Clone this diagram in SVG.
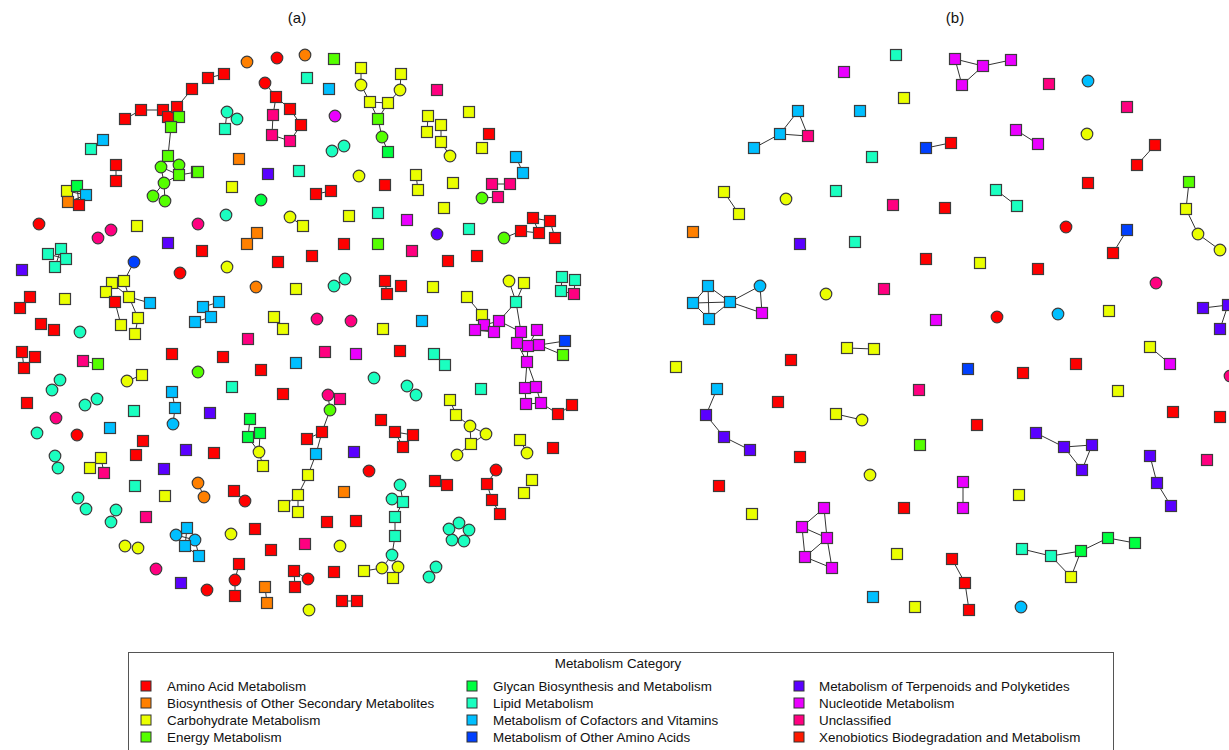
<svg xmlns="http://www.w3.org/2000/svg" xmlns:xlink="http://www.w3.org/1999/xlink" width="1229" height="750" viewBox="0 0 1229 750">
<style>
.r{fill:#ff0000}.o{fill:#ff8000}.y{fill:#eaff00}.e{fill:#55ff00}.g{fill:#00ff40}.l{fill:#1affc0}.c{fill:#00bfff}.b{fill:#0040ff}.t{fill:#5a00ff}.n{fill:#ea00ff}.u{fill:#ff0080}.x{fill:#ff1a00}
use{stroke:#3c3c3c;stroke-width:1.2}
#connectors line{stroke:#333;stroke-width:1}
text{font-family:"Liberation Sans",Arial,sans-serif;fill:#111}
.lg{font-size:13.4px}
.sw{stroke:#333;stroke-width:1}
</style>
<defs>
<rect id="s" x="-5.5" y="-5.5" width="11" height="11"/>
<circle id="k" r="5.8"/>
</defs>
<rect width="1229" height="750" fill="#fff"/>
<text x="297" y="23" font-size="15" text-anchor="middle">(a)</text>
<text x="955" y="23" font-size="15" text-anchor="middle">(b)</text>
<g id="connectors">
<line x1="192" y1="89" x2="177" y2="107"/><line x1="125" y1="119" x2="141" y2="110"/><line x1="141" y1="110" x2="163" y2="110"/><line x1="171" y1="127" x2="168" y2="156"/><line x1="168" y1="156" x2="161" y2="167"/><line x1="168" y1="156" x2="179" y2="165"/><line x1="161" y1="167" x2="179" y2="175"/><line x1="164" y1="183" x2="179" y2="175"/><line x1="164" y1="183" x2="161" y2="167"/><line x1="164" y1="183" x2="153" y2="196"/><line x1="164" y1="183" x2="165" y2="201"/><line x1="179" y1="175" x2="197" y2="172"/><line x1="179" y1="165" x2="179" y2="175"/><line x1="116" y1="165" x2="116" y2="181"/><line x1="67" y1="191" x2="86" y2="195"/><line x1="77" y1="186" x2="79" y2="205"/><line x1="68" y1="202" x2="86" y2="195"/><line x1="61" y1="249" x2="55" y2="267"/><line x1="48" y1="254" x2="66" y2="259"/><line x1="134" y1="262" x2="124" y2="281"/><line x1="124" y1="281" x2="129" y2="297"/><line x1="112" y1="283" x2="129" y2="297"/><line x1="129" y1="297" x2="150" y2="303"/><line x1="129" y1="297" x2="138" y2="318"/><line x1="115" y1="302" x2="121" y2="325"/><line x1="138" y1="318" x2="135" y2="334"/><line x1="106" y1="292" x2="115" y2="302"/><line x1="22" y1="352" x2="24" y2="368"/><line x1="83" y1="361" x2="98" y2="364"/><line x1="127" y1="381" x2="142" y2="375"/><line x1="172" y1="392" x2="175" y2="408"/><line x1="175" y1="408" x2="173" y2="424"/><line x1="101" y1="458" x2="104" y2="473"/><line x1="90" y1="468" x2="101" y2="458"/><line x1="187" y1="528" x2="185" y2="546"/><line x1="176" y1="535" x2="195" y2="540"/><line x1="185" y1="546" x2="199" y2="556"/><line x1="195" y1="540" x2="199" y2="556"/><line x1="208" y1="78" x2="224" y2="74"/><line x1="265" y1="83" x2="276" y2="97"/><line x1="276" y1="97" x2="290" y2="109"/><line x1="290" y1="109" x2="301" y2="125"/><line x1="276" y1="97" x2="273" y2="115"/><line x1="273" y1="115" x2="272" y2="135"/><line x1="272" y1="135" x2="290" y2="141"/><line x1="301" y1="125" x2="290" y2="141"/><line x1="227" y1="112" x2="225" y2="129"/><line x1="361" y1="68" x2="361" y2="85"/><line x1="361" y1="85" x2="370" y2="102"/><line x1="370" y1="102" x2="388" y2="103"/><line x1="370" y1="102" x2="378" y2="119"/><line x1="388" y1="103" x2="378" y2="119"/><line x1="378" y1="119" x2="382" y2="137"/><line x1="382" y1="137" x2="388" y2="152"/><line x1="388" y1="103" x2="400" y2="90"/><line x1="401" y1="74" x2="400" y2="90"/><line x1="428" y1="116" x2="427" y2="132"/><line x1="441" y1="125" x2="441" y2="142"/><line x1="441" y1="142" x2="450" y2="156"/><line x1="516" y1="157" x2="523" y2="173"/><line x1="492" y1="184" x2="510" y2="184"/><line x1="482" y1="198" x2="498" y2="197"/><line x1="416" y1="175" x2="418" y2="190"/><line x1="533" y1="218" x2="550" y2="221"/><line x1="521" y1="231" x2="539" y2="233"/><line x1="504" y1="238" x2="521" y2="231"/><line x1="550" y1="221" x2="555" y2="238"/><line x1="533" y1="218" x2="539" y2="233"/><line x1="290" y1="217" x2="303" y2="226"/><line x1="316" y1="194" x2="331" y2="191"/><line x1="257" y1="233" x2="247" y2="244"/><line x1="334" y1="286" x2="345" y2="279"/><line x1="385" y1="281" x2="387" y2="294"/><line x1="203" y1="307" x2="219" y2="302"/><line x1="211" y1="317" x2="195" y2="322"/><line x1="509" y1="281" x2="516" y2="302"/><line x1="524" y1="283" x2="516" y2="302"/><line x1="516" y1="302" x2="499" y2="321"/><line x1="516" y1="302" x2="521" y2="332"/><line x1="467" y1="297" x2="482" y2="315"/><line x1="482" y1="315" x2="494" y2="332"/><line x1="499" y1="321" x2="484" y2="325"/><line x1="475" y1="330" x2="494" y2="332"/><line x1="499" y1="321" x2="521" y2="332"/><line x1="521" y1="332" x2="517" y2="343"/><line x1="537" y1="330" x2="528" y2="346"/><line x1="517" y1="343" x2="528" y2="346"/><line x1="528" y1="346" x2="539" y2="345"/><line x1="539" y1="345" x2="565" y2="341"/><line x1="539" y1="345" x2="563" y2="355"/><line x1="517" y1="343" x2="527" y2="362"/><line x1="528" y1="346" x2="527" y2="362"/><line x1="527" y1="362" x2="525" y2="388"/><line x1="527" y1="362" x2="536" y2="387"/><line x1="525" y1="388" x2="526" y2="404"/><line x1="536" y1="387" x2="541" y2="403"/><line x1="526" y1="404" x2="541" y2="403"/><line x1="541" y1="403" x2="558" y2="414"/><line x1="558" y1="414" x2="572" y2="405"/><line x1="562" y1="277" x2="561" y2="291"/><line x1="575" y1="280" x2="574" y2="294"/><line x1="561" y1="291" x2="574" y2="294"/><line x1="434" y1="354" x2="445" y2="365"/><line x1="450" y1="400" x2="456" y2="415"/><line x1="456" y1="415" x2="470" y2="426"/><line x1="470" y1="426" x2="486" y2="434"/><line x1="470" y1="426" x2="471" y2="444"/><line x1="486" y1="434" x2="471" y2="444"/><line x1="471" y1="444" x2="457" y2="455"/><line x1="520" y1="440" x2="527" y2="453"/><line x1="395" y1="432" x2="413" y2="435"/><line x1="395" y1="432" x2="403" y2="447"/><line x1="496" y1="470" x2="487" y2="484"/><line x1="487" y1="484" x2="492" y2="500"/><line x1="492" y1="500" x2="500" y2="514"/><line x1="435" y1="481" x2="447" y2="485"/><line x1="400" y1="485" x2="403" y2="502"/><line x1="392" y1="499" x2="403" y2="502"/><line x1="403" y1="502" x2="395" y2="517"/><line x1="395" y1="517" x2="395" y2="536"/><line x1="395" y1="536" x2="392" y2="555"/><line x1="392" y1="555" x2="382" y2="568"/><line x1="392" y1="555" x2="398" y2="567"/><line x1="398" y1="567" x2="393" y2="578"/><line x1="382" y1="568" x2="364" y2="571"/><line x1="459" y1="523" x2="469" y2="530"/><line x1="469" y1="530" x2="464" y2="541"/><line x1="464" y1="541" x2="452" y2="540"/><line x1="452" y1="540" x2="449" y2="529"/><line x1="449" y1="529" x2="459" y2="523"/><line x1="328" y1="395" x2="340" y2="399"/><line x1="328" y1="395" x2="330" y2="410"/><line x1="330" y1="410" x2="322" y2="432"/><line x1="322" y1="432" x2="307" y2="439"/><line x1="322" y1="432" x2="316" y2="454"/><line x1="316" y1="454" x2="308" y2="475"/><line x1="308" y1="475" x2="298" y2="495"/><line x1="298" y1="495" x2="284" y2="506"/><line x1="298" y1="495" x2="298" y2="512"/><line x1="250" y1="419" x2="248" y2="437"/><line x1="260" y1="433" x2="259" y2="452"/><line x1="248" y1="437" x2="259" y2="452"/><line x1="259" y1="452" x2="263" y2="466"/><line x1="198" y1="483" x2="204" y2="497"/><line x1="234" y1="491" x2="245" y2="501"/><line x1="239" y1="564" x2="235" y2="580"/><line x1="235" y1="580" x2="235" y2="596"/><line x1="294" y1="571" x2="295" y2="587"/><line x1="294" y1="571" x2="308" y2="579"/><line x1="265" y1="587" x2="267" y2="603"/><line x1="342" y1="601" x2="357" y2="601"/>
<line x1="798" y1="111" x2="780" y2="134"/><line x1="798" y1="111" x2="808" y2="136"/><line x1="780" y1="134" x2="808" y2="136"/><line x1="780" y1="134" x2="754" y2="148"/><line x1="926" y1="148" x2="950" y2="143"/><line x1="724" y1="192" x2="739" y2="214"/><line x1="708" y1="286" x2="693" y2="303"/><line x1="693" y1="303" x2="709" y2="319"/><line x1="708" y1="286" x2="709" y2="319"/><line x1="693" y1="303" x2="730" y2="302"/><line x1="708" y1="286" x2="730" y2="302"/><line x1="709" y1="319" x2="730" y2="302"/><line x1="730" y1="302" x2="760" y2="286"/><line x1="730" y1="302" x2="762" y2="313"/><line x1="760" y1="286" x2="762" y2="313"/><line x1="955" y1="59" x2="983" y2="66"/><line x1="955" y1="59" x2="962" y2="85"/><line x1="962" y1="85" x2="983" y2="66"/><line x1="983" y1="66" x2="1011" y2="60"/><line x1="1016" y1="130" x2="1038" y2="144"/><line x1="1155" y1="145" x2="1137" y2="165"/><line x1="996" y1="190" x2="1017" y2="206"/><line x1="1189" y1="182" x2="1186" y2="209"/><line x1="1186" y1="209" x2="1198" y2="234"/><line x1="1198" y1="234" x2="1220" y2="250"/><line x1="1127" y1="230" x2="1113" y2="253"/><line x1="1203" y1="308" x2="1228" y2="305"/><line x1="1228" y1="305" x2="1220" y2="329"/><line x1="847" y1="348" x2="874" y2="349"/><line x1="717" y1="389" x2="706" y2="415"/><line x1="706" y1="415" x2="724" y2="437"/><line x1="724" y1="437" x2="750" y2="450"/><line x1="836" y1="414" x2="862" y2="420"/><line x1="824" y1="508" x2="802" y2="527"/><line x1="824" y1="508" x2="827" y2="538"/><line x1="802" y1="527" x2="827" y2="538"/><line x1="802" y1="527" x2="805" y2="557"/><line x1="805" y1="557" x2="827" y2="538"/><line x1="805" y1="557" x2="832" y2="568"/><line x1="827" y1="538" x2="832" y2="568"/><line x1="1150" y1="347" x2="1170" y2="364"/><line x1="1036" y1="433" x2="1064" y2="447"/><line x1="1064" y1="447" x2="1092" y2="445"/><line x1="1064" y1="447" x2="1082" y2="470"/><line x1="1092" y1="445" x2="1082" y2="470"/><line x1="1150" y1="456" x2="1157" y2="483"/><line x1="1157" y1="483" x2="1171" y2="506"/><line x1="963" y1="482" x2="963" y2="508"/><line x1="1022" y1="549" x2="1051" y2="556"/><line x1="1051" y1="556" x2="1081" y2="551"/><line x1="1081" y1="551" x2="1108" y2="538"/><line x1="1108" y1="538" x2="1135" y2="543"/><line x1="1051" y1="556" x2="1071" y2="577"/><line x1="1081" y1="551" x2="1071" y2="577"/><line x1="952" y1="559" x2="965" y2="583"/><line x1="965" y1="583" x2="969" y2="610"/>
</g>
<g id="panel-a">
<g id="a1"><use href="#s" class="r" x="192" y="89"/></g>
<g id="a2"><use href="#s" class="r" x="141" y="110"/></g>
<g id="a3"><use href="#s" class="r" x="163" y="110"/></g>
<g id="a4"><use href="#s" class="r" x="168" y="117"/></g>
<g id="a5"><use href="#s" class="r" x="177" y="107"/></g>
<g id="a6"><use href="#s" class="e" x="179" y="117"/></g>
<g id="a7"><use href="#s" class="r" x="125" y="119"/></g>
<g id="a8"><use href="#s" class="e" x="171" y="127"/></g>
<g id="a9"><use href="#s" class="c" x="103" y="140"/></g>
<g id="a10"><use href="#s" class="l" x="91" y="149"/></g>
<g id="a11"><use href="#s" class="r" x="116" y="165"/></g>
<g id="a12"><use href="#s" class="r" x="116" y="181"/></g>
<g id="a13"><use href="#s" class="e" x="168" y="156"/></g>
<g id="a14"><use href="#k" class="e" x="161" y="167"/></g>
<g id="a15"><use href="#k" class="e" x="179" y="165"/></g>
<g id="a16"><use href="#s" class="e" x="179" y="175"/></g>
<g id="a17"><use href="#s" class="e" x="197" y="172"/></g>
<g id="a18"><use href="#k" class="e" x="164" y="183"/></g>
<g id="a19"><use href="#k" class="e" x="153" y="196"/></g>
<g id="a20"><use href="#k" class="e" x="165" y="201"/></g>
<g id="a21"><use href="#s" class="y" x="67" y="191"/></g>
<g id="a22"><use href="#s" class="g" x="77" y="186"/></g>
<g id="a23"><use href="#s" class="c" x="86" y="195"/></g>
<g id="a24"><use href="#s" class="o" x="68" y="202"/></g>
<g id="a25"><use href="#s" class="r" x="79" y="205"/></g>
<g id="a26"><use href="#k" class="r" x="39" y="224"/></g>
<g id="a27"><use href="#k" class="u" x="98" y="238"/></g>
<g id="a28"><use href="#k" class="u" x="111" y="230"/></g>
<g id="a29"><use href="#s" class="y" x="137" y="226"/></g>
<g id="a30"><use href="#s" class="t" x="168" y="243"/></g>
<g id="a31"><use href="#s" class="l" x="48" y="254"/></g>
<g id="a32"><use href="#s" class="l" x="61" y="249"/></g>
<g id="a33"><use href="#s" class="l" x="66" y="259"/></g>
<g id="a34"><use href="#s" class="l" x="55" y="267"/></g>
<g id="a35"><use href="#s" class="t" x="22" y="270"/></g>
<g id="a36"><use href="#k" class="b" x="134" y="262"/></g>
<g id="a37"><use href="#k" class="r" x="180" y="273"/></g>
<g id="a38"><use href="#s" class="y" x="112" y="283"/></g>
<g id="a39"><use href="#s" class="y" x="124" y="281"/></g>
<g id="a40"><use href="#s" class="y" x="106" y="292"/></g>
<g id="a41"><use href="#s" class="r" x="115" y="302"/></g>
<g id="a42"><use href="#s" class="y" x="129" y="297"/></g>
<g id="a43"><use href="#s" class="c" x="150" y="303"/></g>
<g id="a44"><use href="#s" class="y" x="138" y="318"/></g>
<g id="a45"><use href="#s" class="y" x="121" y="325"/></g>
<g id="a46"><use href="#s" class="y" x="135" y="334"/></g>
<g id="a47"><use href="#s" class="r" x="30" y="297"/></g>
<g id="a48"><use href="#s" class="r" x="20" y="308"/></g>
<g id="a49"><use href="#s" class="y" x="65" y="299"/></g>
<g id="a50"><use href="#s" class="r" x="41" y="324"/></g>
<g id="a51"><use href="#s" class="r" x="54" y="330"/></g>
<g id="a52"><use href="#k" class="l" x="80" y="332"/></g>
<g id="a53"><use href="#k" class="o" x="247" y="62"/></g>
<g id="a54"><use href="#k" class="r" x="277" y="58"/></g>
<g id="a55"><use href="#k" class="o" x="305" y="55"/></g>
<g id="a56"><use href="#s" class="e" x="334" y="59"/></g>
<g id="a57"><use href="#s" class="r" x="208" y="78"/></g>
<g id="a58"><use href="#s" class="r" x="224" y="74"/></g>
<g id="a59"><use href="#k" class="r" x="265" y="83"/></g>
<g id="a60"><use href="#s" class="l" x="307" y="78"/></g>
<g id="a61"><use href="#s" class="c" x="329" y="89"/></g>
<g id="a62"><use href="#s" class="y" x="361" y="68"/></g>
<g id="a63"><use href="#k" class="y" x="361" y="85"/></g>
<g id="a64"><use href="#s" class="y" x="370" y="102"/></g>
<g id="a65"><use href="#s" class="y" x="388" y="103"/></g>
<g id="a66"><use href="#s" class="e" x="378" y="119"/></g>
<g id="a67"><use href="#k" class="e" x="382" y="137"/></g>
<g id="a68"><use href="#s" class="g" x="388" y="152"/></g>
<g id="a69"><use href="#k" class="l" x="227" y="112"/></g>
<g id="a70"><use href="#k" class="l" x="237" y="119"/></g>
<g id="a71"><use href="#s" class="l" x="225" y="129"/></g>
<g id="a72"><use href="#s" class="r" x="276" y="97"/></g>
<g id="a73"><use href="#s" class="r" x="290" y="109"/></g>
<g id="a74"><use href="#s" class="r" x="301" y="125"/></g>
<g id="a75"><use href="#s" class="u" x="273" y="115"/></g>
<g id="a76"><use href="#s" class="u" x="272" y="135"/></g>
<g id="a77"><use href="#s" class="u" x="290" y="141"/></g>
<g id="a78"><use href="#k" class="n" x="335" y="116"/></g>
<g id="a79"><use href="#k" class="l" x="332" y="151"/></g>
<g id="a80"><use href="#k" class="l" x="344" y="146"/></g>
<g id="a81"><use href="#s" class="o" x="239" y="159"/></g>
<g id="a82"><use href="#s" class="t" x="268" y="174"/></g>
<g id="a83"><use href="#s" class="l" x="299" y="171"/></g>
<g id="a84"><use href="#k" class="y" x="359" y="176"/></g>
<g id="a85"><use href="#s" class="r" x="385" y="185"/></g>
<g id="a86"><use href="#s" class="e" x="198" y="172"/></g>
<g id="a87"><use href="#s" class="y" x="232" y="187"/></g>
<g id="a88"><use href="#s" class="r" x="316" y="194"/></g>
<g id="a89"><use href="#s" class="r" x="331" y="191"/></g>
<g id="a90"><use href="#k" class="g" x="261" y="200"/></g>
<g id="a91"><use href="#k" class="l" x="226" y="215"/></g>
<g id="a92"><use href="#k" class="u" x="198" y="224"/></g>
<g id="a93"><use href="#k" class="y" x="290" y="217"/></g>
<g id="a94"><use href="#s" class="y" x="303" y="226"/></g>
<g id="a95"><use href="#s" class="y" x="349" y="216"/></g>
<g id="a96"><use href="#s" class="l" x="378" y="213"/></g>
<g id="a97"><use href="#s" class="o" x="257" y="233"/></g>
<g id="a98"><use href="#s" class="o" x="247" y="244"/></g>
<g id="a99"><use href="#s" class="r" x="202" y="251"/></g>
<g id="a100"><use href="#s" class="r" x="344" y="244"/></g>
<g id="a101"><use href="#s" class="e" x="378" y="244"/></g>
<g id="a102"><use href="#s" class="r" x="278" y="262"/></g>
<g id="a103"><use href="#s" class="r" x="312" y="256"/></g>
<g id="a104"><use href="#k" class="y" x="227" y="267"/></g>
<g id="a105"><use href="#k" class="o" x="256" y="287"/></g>
<g id="a106"><use href="#s" class="y" x="296" y="289"/></g>
<g id="a107"><use href="#k" class="l" x="334" y="286"/></g>
<g id="a108"><use href="#k" class="l" x="345" y="279"/></g>
<g id="a109"><use href="#s" class="r" x="385" y="281"/></g>
<g id="a110"><use href="#s" class="r" x="387" y="294"/></g>
<g id="a111"><use href="#s" class="c" x="203" y="307"/></g>
<g id="a112"><use href="#s" class="c" x="219" y="302"/></g>
<g id="a113"><use href="#s" class="c" x="211" y="317"/></g>
<g id="a114"><use href="#s" class="c" x="195" y="322"/></g>
<g id="a115"><use href="#s" class="y" x="274" y="317"/></g>
<g id="a116"><use href="#k" class="u" x="317" y="319"/></g>
<g id="a117"><use href="#k" class="u" x="351" y="321"/></g>
<g id="a118"><use href="#s" class="y" x="383" y="329"/></g>
<g id="a119"><use href="#s" class="y" x="283" y="329"/></g>
<g id="a120"><use href="#s" class="y" x="401" y="74"/></g>
<g id="a121"><use href="#k" class="y" x="400" y="90"/></g>
<g id="a122"><use href="#s" class="u" x="437" y="90"/></g>
<g id="a123"><use href="#s" class="y" x="428" y="116"/></g>
<g id="a124"><use href="#s" class="y" x="441" y="125"/></g>
<g id="a125"><use href="#s" class="y" x="427" y="132"/></g>
<g id="a126"><use href="#s" class="y" x="441" y="142"/></g>
<g id="a127"><use href="#k" class="y" x="450" y="156"/></g>
<g id="a128"><use href="#s" class="y" x="469" y="112"/></g>
<g id="a129"><use href="#s" class="r" x="489" y="134"/></g>
<g id="a130"><use href="#s" class="y" x="482" y="148"/></g>
<g id="a131"><use href="#s" class="c" x="516" y="157"/></g>
<g id="a132"><use href="#s" class="c" x="523" y="173"/></g>
<g id="a133"><use href="#s" class="u" x="492" y="184"/></g>
<g id="a134"><use href="#s" class="u" x="510" y="184"/></g>
<g id="a135"><use href="#s" class="u" x="498" y="197"/></g>
<g id="a136"><use href="#k" class="e" x="482" y="198"/></g>
<g id="a137"><use href="#s" class="y" x="416" y="175"/></g>
<g id="a138"><use href="#s" class="y" x="418" y="190"/></g>
<g id="a139"><use href="#s" class="y" x="453" y="183"/></g>
<g id="a140"><use href="#s" class="y" x="444" y="208"/></g>
<g id="a141"><use href="#s" class="n" x="407" y="220"/></g>
<g id="a142"><use href="#k" class="t" x="437" y="234"/></g>
<g id="a143"><use href="#s" class="l" x="469" y="229"/></g>
<g id="a144"><use href="#s" class="r" x="533" y="218"/></g>
<g id="a145"><use href="#s" class="r" x="550" y="221"/></g>
<g id="a146"><use href="#s" class="r" x="521" y="231"/></g>
<g id="a147"><use href="#s" class="r" x="539" y="233"/></g>
<g id="a148"><use href="#s" class="r" x="555" y="238"/></g>
<g id="a149"><use href="#k" class="e" x="504" y="238"/></g>
<g id="a150"><use href="#s" class="u" x="412" y="251"/></g>
<g id="a151"><use href="#s" class="r" x="448" y="261"/></g>
<g id="a152"><use href="#s" class="r" x="477" y="256"/></g>
<g id="a153"><use href="#s" class="r" x="401" y="286"/></g>
<g id="a154"><use href="#s" class="y" x="433" y="287"/></g>
<g id="a155"><use href="#k" class="y" x="509" y="281"/></g>
<g id="a156"><use href="#s" class="y" x="524" y="283"/></g>
<g id="a157"><use href="#s" class="l" x="562" y="277"/></g>
<g id="a158"><use href="#s" class="l" x="575" y="280"/></g>
<g id="a159"><use href="#s" class="l" x="561" y="291"/></g>
<g id="a160"><use href="#s" class="u" x="574" y="294"/></g>
<g id="a161"><use href="#s" class="l" x="516" y="302"/></g>
<g id="a162"><use href="#s" class="y" x="467" y="297"/></g>
<g id="a163"><use href="#s" class="y" x="482" y="315"/></g>
<g id="a164"><use href="#s" class="n" x="499" y="321"/></g>
<g id="a165"><use href="#s" class="n" x="484" y="325"/></g>
<g id="a166"><use href="#s" class="n" x="475" y="330"/></g>
<g id="a167"><use href="#s" class="n" x="494" y="332"/></g>
<g id="a168"><use href="#s" class="n" x="521" y="332"/></g>
<g id="a169"><use href="#s" class="n" x="537" y="330"/></g>
<g id="a170"><use href="#s" class="c" x="422" y="321"/></g>
<g id="a171"><use href="#s" class="n" x="517" y="343"/></g>
<g id="a172"><use href="#s" class="n" x="528" y="346"/></g>
<g id="a173"><use href="#s" class="n" x="539" y="345"/></g>
<g id="a174"><use href="#s" class="b" x="565" y="341"/></g>
<g id="a175"><use href="#s" class="e" x="563" y="355"/></g>
<g id="a176"><use href="#s" class="n" x="527" y="362"/></g>
<g id="a177"><use href="#s" class="n" x="525" y="388"/></g>
<g id="a178"><use href="#s" class="n" x="536" y="387"/></g>
<g id="a179"><use href="#s" class="n" x="526" y="404"/></g>
<g id="a180"><use href="#s" class="n" x="541" y="403"/></g>
<g id="a181"><use href="#s" class="r" x="558" y="414"/></g>
<g id="a182"><use href="#s" class="r" x="572" y="405"/></g>
<g id="a183"><use href="#s" class="r" x="400" y="351"/></g>
<g id="a184"><use href="#s" class="l" x="434" y="354"/></g>
<g id="a185"><use href="#s" class="l" x="445" y="365"/></g>
<g id="a186"><use href="#k" class="l" x="407" y="386"/></g>
<g id="a187"><use href="#k" class="l" x="416" y="395"/></g>
<g id="a188"><use href="#s" class="l" x="481" y="389"/></g>
<g id="a189"><use href="#s" class="y" x="450" y="400"/></g>
<g id="a190"><use href="#s" class="y" x="456" y="415"/></g>
<g id="a191"><use href="#k" class="y" x="470" y="426"/></g>
<g id="a192"><use href="#k" class="y" x="486" y="434"/></g>
<g id="a193"><use href="#s" class="y" x="471" y="444"/></g>
<g id="a194"><use href="#k" class="y" x="457" y="455"/></g>
<g id="a195"><use href="#s" class="y" x="520" y="440"/></g>
<g id="a196"><use href="#k" class="y" x="527" y="453"/></g>
<g id="a197"><use href="#s" class="r" x="553" y="448"/></g>
<g id="a198"><use href="#s" class="r" x="395" y="432"/></g>
<g id="a199"><use href="#s" class="r" x="413" y="435"/></g>
<g id="a200"><use href="#s" class="r" x="403" y="447"/></g>
<g id="a201"><use href="#k" class="r" x="496" y="470"/></g>
<g id="a202"><use href="#s" class="r" x="487" y="484"/></g>
<g id="a203"><use href="#s" class="r" x="492" y="500"/></g>
<g id="a204"><use href="#s" class="r" x="500" y="514"/></g>
<g id="a205"><use href="#s" class="r" x="435" y="481"/></g>
<g id="a206"><use href="#s" class="r" x="447" y="485"/></g>
<g id="a207"><use href="#s" class="y" x="532" y="480"/></g>
<g id="a208"><use href="#s" class="y" x="524" y="493"/></g>
<g id="a209"><use href="#k" class="l" x="400" y="485"/></g>
<g id="a210"><use href="#k" class="l" x="392" y="499"/></g>
<g id="a211"><use href="#s" class="l" x="403" y="502"/></g>
<g id="a212"><use href="#s" class="l" x="395" y="517"/></g>
<g id="a213"><use href="#s" class="l" x="395" y="536"/></g>
<g id="a214"><use href="#k" class="l" x="392" y="555"/></g>
<g id="a215"><use href="#k" class="y" x="398" y="567"/></g>
<g id="a216"><use href="#s" class="y" x="393" y="578"/></g>
<g id="a217"><use href="#k" class="l" x="459" y="523"/></g>
<g id="a218"><use href="#k" class="l" x="469" y="530"/></g>
<g id="a219"><use href="#k" class="l" x="464" y="541"/></g>
<g id="a220"><use href="#k" class="l" x="452" y="540"/></g>
<g id="a221"><use href="#k" class="l" x="449" y="529"/></g>
<g id="a222"><use href="#k" class="l" x="436" y="567"/></g>
<g id="a223"><use href="#k" class="l" x="429" y="577"/></g>
<g id="a224"><use href="#s" class="u" x="248" y="339"/></g>
<g id="a225"><use href="#s" class="u" x="325" y="352"/></g>
<g id="a226"><use href="#s" class="n" x="356" y="354"/></g>
<g id="a227"><use href="#s" class="r" x="223" y="357"/></g>
<g id="a228"><use href="#s" class="c" x="296" y="363"/></g>
<g id="a229"><use href="#s" class="r" x="261" y="370"/></g>
<g id="a230"><use href="#k" class="e" x="198" y="372"/></g>
<g id="a231"><use href="#k" class="l" x="374" y="378"/></g>
<g id="a232"><use href="#s" class="l" x="232" y="387"/></g>
<g id="a233"><use href="#s" class="r" x="283" y="394"/></g>
<g id="a234"><use href="#k" class="u" x="328" y="395"/></g>
<g id="a235"><use href="#s" class="u" x="340" y="399"/></g>
<g id="a236"><use href="#k" class="e" x="330" y="410"/></g>
<g id="a237"><use href="#s" class="t" x="210" y="413"/></g>
<g id="a238"><use href="#s" class="g" x="250" y="419"/></g>
<g id="a239"><use href="#s" class="g" x="248" y="437"/></g>
<g id="a240"><use href="#s" class="g" x="260" y="433"/></g>
<g id="a241"><use href="#k" class="y" x="259" y="452"/></g>
<g id="a242"><use href="#s" class="y" x="263" y="466"/></g>
<g id="a243"><use href="#s" class="r" x="322" y="432"/></g>
<g id="a244"><use href="#s" class="r" x="307" y="439"/></g>
<g id="a245"><use href="#s" class="c" x="316" y="454"/></g>
<g id="a246"><use href="#s" class="y" x="308" y="475"/></g>
<g id="a247"><use href="#s" class="r" x="381" y="420"/></g>
<g id="a248"><use href="#s" class="t" x="354" y="452"/></g>
<g id="a249"><use href="#s" class="r" x="214" y="453"/></g>
<g id="a250"><use href="#k" class="r" x="369" y="471"/></g>
<g id="a251"><use href="#k" class="o" x="198" y="483"/></g>
<g id="a252"><use href="#k" class="o" x="204" y="497"/></g>
<g id="a253"><use href="#s" class="r" x="234" y="491"/></g>
<g id="a254"><use href="#k" class="r" x="245" y="501"/></g>
<g id="a255"><use href="#s" class="o" x="344" y="492"/></g>
<g id="a256"><use href="#s" class="y" x="298" y="495"/></g>
<g id="a257"><use href="#s" class="y" x="284" y="506"/></g>
<g id="a258"><use href="#s" class="y" x="298" y="512"/></g>
<g id="a259"><use href="#s" class="r" x="327" y="522"/></g>
<g id="a260"><use href="#s" class="r" x="356" y="521"/></g>
<g id="a261"><use href="#s" class="r" x="255" y="529"/></g>
<g id="a262"><use href="#k" class="y" x="231" y="534"/></g>
<g id="a263"><use href="#s" class="u" x="305" y="544"/></g>
<g id="a264"><use href="#k" class="y" x="340" y="546"/></g>
<g id="a265"><use href="#s" class="r" x="271" y="550"/></g>
<g id="a266"><use href="#s" class="r" x="239" y="564"/></g>
<g id="a267"><use href="#k" class="r" x="235" y="580"/></g>
<g id="a268"><use href="#s" class="r" x="235" y="596"/></g>
<g id="a269"><use href="#s" class="r" x="294" y="571"/></g>
<g id="a270"><use href="#k" class="r" x="308" y="579"/></g>
<g id="a271"><use href="#s" class="r" x="295" y="587"/></g>
<g id="a272"><use href="#s" class="r" x="334" y="572"/></g>
<g id="a273"><use href="#s" class="y" x="364" y="571"/></g>
<g id="a274"><use href="#k" class="y" x="382" y="568"/></g>
<g id="a275"><use href="#k" class="r" x="207" y="590"/></g>
<g id="a276"><use href="#s" class="o" x="265" y="587"/></g>
<g id="a277"><use href="#s" class="o" x="267" y="603"/></g>
<g id="a278"><use href="#s" class="r" x="342" y="601"/></g>
<g id="a279"><use href="#s" class="r" x="357" y="601"/></g>
<g id="a280"><use href="#k" class="y" x="309" y="610"/></g>
<g id="a281"><use href="#s" class="r" x="22" y="352"/></g>
<g id="a282"><use href="#s" class="r" x="35" y="357"/></g>
<g id="a283"><use href="#s" class="r" x="24" y="368"/></g>
<g id="a284"><use href="#s" class="u" x="83" y="361"/></g>
<g id="a285"><use href="#s" class="e" x="98" y="364"/></g>
<g id="a286"><use href="#s" class="r" x="172" y="354"/></g>
<g id="a287"><use href="#k" class="l" x="60" y="380"/></g>
<g id="a288"><use href="#k" class="l" x="52" y="390"/></g>
<g id="a289"><use href="#k" class="y" x="127" y="381"/></g>
<g id="a290"><use href="#s" class="y" x="142" y="375"/></g>
<g id="a291"><use href="#k" class="l" x="85" y="405"/></g>
<g id="a292"><use href="#k" class="l" x="97" y="399"/></g>
<g id="a293"><use href="#s" class="l" x="134" y="411"/></g>
<g id="a294"><use href="#s" class="c" x="172" y="392"/></g>
<g id="a295"><use href="#s" class="c" x="175" y="408"/></g>
<g id="a296"><use href="#k" class="c" x="173" y="424"/></g>
<g id="a297"><use href="#s" class="r" x="27" y="403"/></g>
<g id="a298"><use href="#k" class="u" x="56" y="418"/></g>
<g id="a299"><use href="#k" class="l" x="37" y="433"/></g>
<g id="a300"><use href="#k" class="r" x="77" y="435"/></g>
<g id="a301"><use href="#s" class="c" x="110" y="428"/></g>
<g id="a302"><use href="#s" class="r" x="143" y="441"/></g>
<g id="a303"><use href="#s" class="r" x="136" y="455"/></g>
<g id="a304"><use href="#s" class="t" x="186" y="450"/></g>
<g id="a305"><use href="#s" class="t" x="164" y="469"/></g>
<g id="a306"><use href="#k" class="l" x="55" y="456"/></g>
<g id="a307"><use href="#k" class="l" x="58" y="468"/></g>
<g id="a308"><use href="#s" class="y" x="101" y="458"/></g>
<g id="a309"><use href="#s" class="y" x="90" y="468"/></g>
<g id="a310"><use href="#s" class="u" x="104" y="473"/></g>
<g id="a311"><use href="#s" class="l" x="135" y="486"/></g>
<g id="a312"><use href="#s" class="y" x="165" y="496"/></g>
<g id="a313"><use href="#k" class="l" x="78" y="498"/></g>
<g id="a314"><use href="#k" class="l" x="86" y="509"/></g>
<g id="a315"><use href="#k" class="l" x="116" y="510"/></g>
<g id="a316"><use href="#k" class="l" x="111" y="522"/></g>
<g id="a317"><use href="#s" class="u" x="146" y="517"/></g>
<g id="a318"><use href="#s" class="c" x="187" y="528"/></g>
<g id="a319"><use href="#k" class="c" x="176" y="535"/></g>
<g id="a320"><use href="#k" class="c" x="195" y="540"/></g>
<g id="a321"><use href="#s" class="c" x="185" y="546"/></g>
<g id="a322"><use href="#s" class="c" x="199" y="556"/></g>
<g id="a323"><use href="#k" class="y" x="125" y="546"/></g>
<g id="a324"><use href="#k" class="y" x="138" y="548"/></g>
<g id="a325"><use href="#k" class="u" x="156" y="569"/></g>
<g id="a326"><use href="#s" class="t" x="181" y="583"/></g>
</g>
<g id="panel-b">
<g id="b1"><use href="#s" class="l" x="896" y="55"/></g>
<g id="b2"><use href="#s" class="n" x="844" y="72"/></g>
<g id="b3"><use href="#s" class="y" x="904" y="98"/></g>
<g id="b4"><use href="#s" class="c" x="798" y="111"/></g>
<g id="b5"><use href="#s" class="c" x="780" y="134"/></g>
<g id="b6"><use href="#s" class="u" x="808" y="136"/></g>
<g id="b7"><use href="#s" class="c" x="754" y="148"/></g>
<g id="b8"><use href="#s" class="c" x="860" y="111"/></g>
<g id="b9"><use href="#s" class="l" x="872" y="157"/></g>
<g id="b10"><use href="#s" class="b" x="926" y="148"/></g>
<g id="b11"><use href="#s" class="r" x="951" y="143"/></g>
<g id="b12"><use href="#s" class="y" x="724" y="192"/></g>
<g id="b13"><use href="#s" class="y" x="739" y="214"/></g>
<g id="b14"><use href="#k" class="y" x="786" y="199"/></g>
<g id="b15"><use href="#s" class="l" x="836" y="191"/></g>
<g id="b16"><use href="#s" class="u" x="893" y="205"/></g>
<g id="b17"><use href="#s" class="r" x="945" y="208"/></g>
<g id="b18"><use href="#s" class="o" x="693" y="232"/></g>
<g id="b19"><use href="#s" class="t" x="800" y="244"/></g>
<g id="b20"><use href="#s" class="l" x="855" y="242"/></g>
<g id="b21"><use href="#s" class="r" x="926" y="259"/></g>
<g id="b22"><use href="#s" class="c" x="708" y="286"/></g>
<g id="b23"><use href="#s" class="c" x="693" y="303"/></g>
<g id="b24"><use href="#s" class="c" x="709" y="319"/></g>
<g id="b25"><use href="#s" class="c" x="730" y="302"/></g>
<g id="b26"><use href="#k" class="c" x="760" y="286"/></g>
<g id="b27"><use href="#s" class="n" x="762" y="313"/></g>
<g id="b28"><use href="#k" class="y" x="826" y="294"/></g>
<g id="b29"><use href="#s" class="u" x="884" y="289"/></g>
<g id="b30"><use href="#s" class="n" x="936" y="320"/></g>
<g id="b31"><use href="#s" class="n" x="955" y="59"/></g>
<g id="b32"><use href="#s" class="n" x="983" y="66"/></g>
<g id="b33"><use href="#s" class="n" x="962" y="85"/></g>
<g id="b34"><use href="#s" class="n" x="1011" y="60"/></g>
<g id="b35"><use href="#s" class="u" x="1049" y="84"/></g>
<g id="b36"><use href="#k" class="c" x="1088" y="81"/></g>
<g id="b37"><use href="#s" class="u" x="1127" y="107"/></g>
<g id="b38"><use href="#s" class="n" x="1016" y="130"/></g>
<g id="b39"><use href="#s" class="n" x="1038" y="144"/></g>
<g id="b40"><use href="#k" class="y" x="1087" y="134"/></g>
<g id="b41"><use href="#s" class="r" x="1155" y="145"/></g>
<g id="b42"><use href="#s" class="r" x="1137" y="165"/></g>
<g id="b43"><use href="#s" class="r" x="1088" y="183"/></g>
<g id="b44"><use href="#s" class="l" x="996" y="190"/></g>
<g id="b45"><use href="#s" class="l" x="1017" y="206"/></g>
<g id="b46"><use href="#s" class="e" x="1189" y="182"/></g>
<g id="b47"><use href="#s" class="y" x="1186" y="209"/></g>
<g id="b48"><use href="#k" class="y" x="1198" y="234"/></g>
<g id="b49"><use href="#k" class="y" x="1220" y="250"/></g>
<g id="b50"><use href="#k" class="r" x="1066" y="227"/></g>
<g id="b51"><use href="#s" class="b" x="1127" y="230"/></g>
<g id="b52"><use href="#s" class="r" x="1113" y="253"/></g>
<g id="b53"><use href="#s" class="y" x="980" y="263"/></g>
<g id="b54"><use href="#s" class="r" x="1038" y="269"/></g>
<g id="b55"><use href="#k" class="u" x="1156" y="283"/></g>
<g id="b56"><use href="#k" class="r" x="997" y="317"/></g>
<g id="b57"><use href="#k" class="c" x="1058" y="314"/></g>
<g id="b58"><use href="#s" class="y" x="1109" y="311"/></g>
<g id="b59"><use href="#s" class="t" x="1203" y="308"/></g>
<g id="b60"><use href="#s" class="t" x="1228" y="305"/></g>
<g id="b61"><use href="#s" class="t" x="1220" y="329"/></g>
<g id="b62"><use href="#s" class="y" x="676" y="367"/></g>
<g id="b63"><use href="#s" class="r" x="791" y="360"/></g>
<g id="b64"><use href="#s" class="y" x="847" y="348"/></g>
<g id="b65"><use href="#s" class="y" x="874" y="349"/></g>
<g id="b66"><use href="#s" class="u" x="919" y="390"/></g>
<g id="b67"><use href="#s" class="c" x="717" y="389"/></g>
<g id="b68"><use href="#s" class="t" x="706" y="415"/></g>
<g id="b69"><use href="#s" class="t" x="724" y="437"/></g>
<g id="b70"><use href="#s" class="t" x="750" y="450"/></g>
<g id="b71"><use href="#s" class="r" x="778" y="402"/></g>
<g id="b72"><use href="#s" class="y" x="836" y="414"/></g>
<g id="b73"><use href="#k" class="y" x="862" y="420"/></g>
<g id="b74"><use href="#s" class="e" x="920" y="445"/></g>
<g id="b75"><use href="#s" class="r" x="800" y="457"/></g>
<g id="b76"><use href="#k" class="y" x="870" y="475"/></g>
<g id="b77"><use href="#s" class="r" x="719" y="486"/></g>
<g id="b78"><use href="#s" class="y" x="752" y="514"/></g>
<g id="b79"><use href="#s" class="n" x="824" y="508"/></g>
<g id="b80"><use href="#s" class="n" x="802" y="527"/></g>
<g id="b81"><use href="#s" class="n" x="827" y="538"/></g>
<g id="b82"><use href="#s" class="n" x="805" y="557"/></g>
<g id="b83"><use href="#s" class="n" x="832" y="568"/></g>
<g id="b84"><use href="#s" class="r" x="904" y="508"/></g>
<g id="b85"><use href="#s" class="y" x="897" y="554"/></g>
<g id="b86"><use href="#s" class="c" x="873" y="597"/></g>
<g id="b87"><use href="#s" class="y" x="915" y="607"/></g>
<g id="b88"><use href="#s" class="b" x="968" y="369"/></g>
<g id="b89"><use href="#s" class="r" x="1023" y="373"/></g>
<g id="b90"><use href="#s" class="r" x="1076" y="364"/></g>
<g id="b91"><use href="#s" class="y" x="1118" y="391"/></g>
<g id="b92"><use href="#s" class="y" x="1150" y="347"/></g>
<g id="b93"><use href="#s" class="n" x="1170" y="364"/></g>
<g id="b94"><use href="#k" class="u" x="1230" y="376"/></g>
<g id="b95"><use href="#s" class="r" x="1173" y="412"/></g>
<g id="b96"><use href="#s" class="r" x="1220" y="417"/></g>
<g id="b97"><use href="#s" class="r" x="977" y="425"/></g>
<g id="b98"><use href="#s" class="t" x="1036" y="433"/></g>
<g id="b99"><use href="#s" class="t" x="1064" y="447"/></g>
<g id="b100"><use href="#s" class="t" x="1092" y="445"/></g>
<g id="b101"><use href="#s" class="t" x="1082" y="470"/></g>
<g id="b102"><use href="#s" class="t" x="1150" y="456"/></g>
<g id="b103"><use href="#s" class="t" x="1157" y="483"/></g>
<g id="b104"><use href="#s" class="t" x="1171" y="506"/></g>
<g id="b105"><use href="#s" class="u" x="1207" y="460"/></g>
<g id="b106"><use href="#s" class="n" x="963" y="482"/></g>
<g id="b107"><use href="#s" class="n" x="963" y="508"/></g>
<g id="b108"><use href="#s" class="y" x="1019" y="495"/></g>
<g id="b109"><use href="#s" class="l" x="1022" y="549"/></g>
<g id="b110"><use href="#s" class="l" x="1051" y="556"/></g>
<g id="b111"><use href="#s" class="g" x="1081" y="551"/></g>
<g id="b112"><use href="#s" class="g" x="1108" y="538"/></g>
<g id="b113"><use href="#s" class="g" x="1135" y="543"/></g>
<g id="b114"><use href="#s" class="y" x="1071" y="577"/></g>
<g id="b115"><use href="#s" class="r" x="952" y="559"/></g>
<g id="b116"><use href="#s" class="r" x="965" y="583"/></g>
<g id="b117"><use href="#s" class="r" x="969" y="610"/></g>
<g id="b118"><use href="#k" class="c" x="1021" y="607"/></g>
</g>
<g id="legend">
<rect x="128.5" y="652.5" width="985" height="110" fill="#fff" stroke="#555" stroke-width="1"/>
<text x="618" y="668" class="lg" text-anchor="middle">Metabolism Category</text>
<rect class="sw r" x="141" y="681" width="10" height="10"/><text x="167" y="690.5" class="lg">Amino Acid Metabolism</text>
<rect class="sw o" x="141" y="698" width="10" height="10"/><text x="167" y="707.5" class="lg">Biosynthesis of Other Secondary Metabolites</text>
<rect class="sw y" x="141" y="715" width="10" height="10"/><text x="167" y="724.5" class="lg">Carbohydrate Metabolism</text>
<rect class="sw e" x="141" y="732" width="10" height="10"/><text x="167" y="741.5" class="lg">Energy Metabolism</text>
<rect class="sw g" x="467" y="681" width="10" height="10"/><text x="493" y="690.5" class="lg">Glycan Biosynthesis and Metabolism</text>
<rect class="sw l" x="467" y="698" width="10" height="10"/><text x="493" y="707.5" class="lg">Lipid Metabolism</text>
<rect class="sw c" x="467" y="715" width="10" height="10"/><text x="493" y="724.5" class="lg">Metabolism of Cofactors and Vitamins</text>
<rect class="sw b" x="467" y="732" width="10" height="10"/><text x="493" y="741.5" class="lg">Metabolism of Other Amino Acids</text>
<rect class="sw t" x="794" y="681" width="10" height="10"/><text x="819" y="690.5" class="lg">Metabolism of Terpenoids and Polyketides</text>
<rect class="sw n" x="794" y="698" width="10" height="10"/><text x="819" y="707.5" class="lg">Nucleotide Metabolism</text>
<rect class="sw u" x="794" y="715" width="10" height="10"/><text x="819" y="724.5" class="lg">Unclassified</text>
<rect class="sw x" x="794" y="732" width="10" height="10"/><text x="819" y="741.5" class="lg">Xenobiotics Biodegradation and Metabolism</text>
</g>
</svg>
